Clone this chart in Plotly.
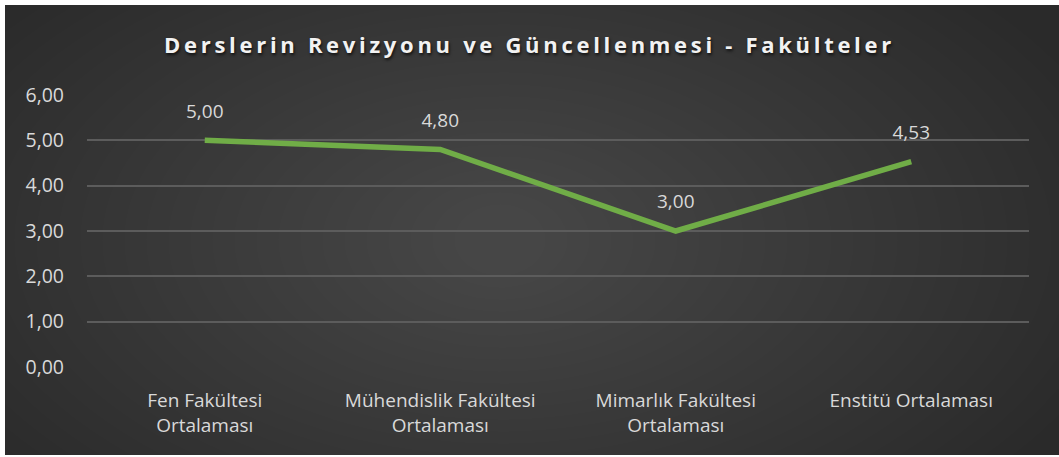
import plotly.graph_objects as go

# veriler
kategoriler = [
    "Fen Fakültesi<br>Ortalaması",
    "Mühendislik Fakültesi<br>Ortalaması",
    "Mimarlık Fakültesi<br>Ortalaması",
    "Enstitü Ortalaması",
]
ortalamalar = [5.00, 4.80, 3.00, 4.53]
y_ticks = [0, 1, 2, 3, 4, 5, 6]
baslik = "Derslerin Revizyonu ve Güncellenmesi - Fakülteler"

W, H = 1059, 457
L, R, T, B = 87, 30, 95, 90
pw, ph = W - L - R, H - T - B


def px_to_paper(x, y):
    return (x - L) / pw, (H - B - y) / ph


fig = go.Figure()
fig.add_trace(go.Scatter(
    x=kategoriler, y=ortalamalar,
    mode="lines+markers+text",
    line=dict(color="#70ad47", width=5.5),
    marker=dict(size=27, color="rgba(0,0,0,0)"),
    texttemplate="%{y:.2f}",
    textposition="top center",
    textfont=dict(family="Open Sans", size=19, color="#d9d9d9"),
    hoverinfo="skip",
    showlegend=False,
))

# arka plan: koyu zemin + yumuşak radyal aydınlık
shapes = []
x0, y0 = px_to_paper(5, 5)
x1, y1 = px_to_paper(W, H - 2)
shapes.append(dict(type="rect", xref="paper", yref="paper", x0=x0, x1=x1, y0=y1, y1=y0,
                   fillcolor="#2a2a2a", line=dict(width=0), layer="below"))
cx, cy = 500, 240
n = 28
for i in range(n):
    rx = 640 - i * 22
    ry = 360 - i * 12
    a0, b0 = px_to_paper(cx - rx, cy + ry)
    a1, b1 = px_to_paper(cx + rx, cy - ry)
    shapes.append(dict(type="circle", xref="paper", yref="paper", x0=a0, x1=a1, y0=b0, y1=b1,
                       fillcolor="rgba(255,255,255,0.009)", line=dict(width=0), layer="below"))

fig.update_layout(
    width=W, height=H,
    margin=dict(l=L, r=R, t=T, b=B),
    paper_bgcolor="white",
    plot_bgcolor="rgba(0,0,0,0)",
    separators=",.",
    shapes=shapes,
    title=dict(
        text=baslik, x=0.5, xanchor="center", y=(H - 45) / H, yanchor="middle", yref="container",
        font=dict(family="Open Sans", size=22, color="#f2f2f2", weight="bold",
                  shadow="1px 2px 3px rgba(0,0,0,0.7)"),
    ),
    font=dict(family="Open Sans", size=19, color="#d9d9d9"),
    xaxis=dict(
        showgrid=False, zeroline=False, showline=False, ticks="",
        range=[-0.5, 3.5], ticklabelstandoff=20, tickfont=dict(size=19, color="#d9d9d9"),
    ),
    yaxis=dict(
        range=[0, 6], tickvals=y_ticks, tickformat=".2f",
        showgrid=True, gridcolor="#5c5c5c", gridwidth=1.5,
        zeroline=False, showline=False, ticks="",
        ticklabelstandoff=22, tickfont=dict(size=19.5, color="#d9d9d9"),
    ),
)

# sayfa kenar boşluğunu kaldır, başlıkta harf aralığı
js = """
document.body.style.margin = '0';
var t = document.querySelector('.gtitle');
if (t) { t.style.letterSpacing = '3.7px'; }
"""
fig.write_html("out.html", post_script=js, config={"displayModeBar": False})
